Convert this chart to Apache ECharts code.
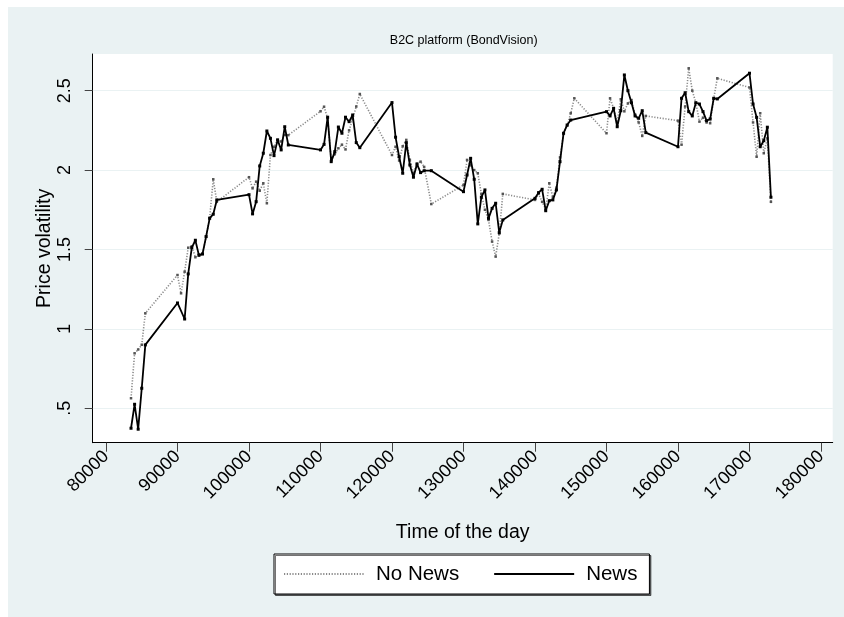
<!DOCTYPE html>
<html>
<head>
<meta charset="utf-8">
<script src="https://cdn.jsdelivr.net/npm/echarts@6/dist/echarts.min.js"></script>
<style>
html,body{margin:0;padding:0;background:#fff;}
#c{width:844px;height:617px;}
</style>
</head>
<body>
<div id="c"></div>
<script>
const titleText = "B2C platform (BondVision)";
const xName = "Time of the day";
const yName = "Price volatility";
const seriesNames = ["No News", "News"];
const xTicks = [80000, 90000, 100000, 110000, 120000, 130000, 140000, 150000, 160000, 170000, 180000];
const yTicks = [0.5, 1, 1.5, 2, 2.5];

const newsTime = [83500,84000,84500,85000,85500,90000,91000,91500,92000,92500,93000,93500,94000,94500,95000,95500,
100000,100500,101000,101500,102000,102500,103000,103500,104000,104500,105000,105500,
110000,110500,111000,111500,112000,112500,113000,113500,114000,114500,115000,115500,
120000,120500,121000,121500,122000,122500,123000,123500,124000,124500,125500,
130000,130500,131000,131500,132000,132500,133000,133500,134000,134500,135000,135500,
140000,140500,141000,141500,142000,142500,143000,143500,144000,144500,145000,
150000,150500,151000,151500,152000,152500,153000,153500,154000,154500,155000,155500,
160000,160500,161000,161500,162000,162500,163000,163500,164000,164500,165000,165500,
170000,170500,171000,171500,172000,172500,173000];
const newsVol = [0.374,0.525,0.368,0.626,0.899,1.163,1.062,1.346,1.511,1.558,1.463,1.472,1.581,1.696,1.722,1.812,
1.845,1.724,1.801,2.026,2.106,2.246,2.200,2.091,2.190,2.127,2.273,2.158,
2.127,2.162,2.333,2.053,2.116,2.271,2.232,2.333,2.305,2.347,2.173,2.141,
2.425,2.207,2.084,1.980,2.173,2.032,1.955,2.038,1.984,1.996,1.996,
1.864,1.969,2.074,1.942,1.661,1.829,1.875,1.696,1.759,1.791,1.606,1.686,
1.822,1.858,1.879,1.744,1.807,1.812,1.875,2.053,2.232,2.284,2.315,
2.368,2.341,2.389,2.273,2.374,2.599,2.500,2.424,2.341,2.326,2.374,2.236,
2.147,2.452,2.487,2.368,2.341,2.424,2.416,2.368,2.311,2.322,2.452,2.448,
2.610,2.416,2.332,2.147,2.185,2.270,1.829];

const noNewsTime = [83500,84000,84500,85000,85500,90000,90500,91000,91500,92000,92500,93000,93500,94000,94500,95000,95500,
100000,100500,101000,101500,102000,102500,103000,103500,104000,104500,105000,105500,
110000,110500,111000,111500,112000,112500,113000,113500,114000,114500,115000,115500,
120000,120500,121000,121500,122000,122500,123000,123500,124000,124500,125500,
130000,130500,131000,131500,132000,132500,133000,133500,134000,134500,135000,135500,
140000,140500,141000,141500,142000,142500,143000,143500,144000,144500,145000,145500,
150000,150500,151000,151500,152000,152500,153000,153500,154000,154500,155000,155500,
160000,160500,161000,161500,162000,162500,163000,163500,164000,164500,165000,165500,
170000,170500,171000,171500,172000,172500,173000];
const noNewsVol = [0.563,0.846,0.87,0.90,1.098,1.339,1.224,1.36,1.511,1.52,1.451,1.47,1.47,1.58,1.70,1.942,1.80,
1.955,1.885,1.927,1.87,1.917,1.791,2.095,2.147,2.19,2.18,2.221,2.22,
2.37,2.399,2.326,2.064,2.10,2.137,2.16,2.13,2.25,2.32,2.40,2.479,
2.095,2.147,2.06,2.15,2.19,2.064,1.98,2.04,2.053,2.02,1.786,
1.906,2.064,2.03,2.0,1.98,1.85,1.75,1.686,1.55,1.455,1.60,1.850,
1.812,1.85,1.80,1.753,1.917,1.83,1.89,2.08,2.23,2.28,2.358,2.452,
2.232,2.452,2.389,2.30,2.446,2.37,2.42,2.441,2.35,2.30,2.215,2.341,
2.311,2.16,2.40,2.641,2.50,2.424,2.305,2.33,2.30,2.295,2.45,2.578,
2.52,2.30,2.084,2.358,2.106,2.20,1.80];

const zip = (a, b) => a.map((t, i) => [t, b[i]]);
const FONT = "'Liberation Sans', Arial, Helvetica, sans-serif";

const chart = echarts.init(document.getElementById('c'), null, {renderer: 'canvas'});
chart.setOption({
  backgroundColor: '#ffffff',
  animation: false,
  graphic: [{
    type: 'rect', z: -10, silent: true,
    shape: {x: 8, y: 7, width: 836, height: 610},
    style: {fill: '#eaf2f3'}
  }],
  title: {
    text: titleText, left: 458.7, top: 29, textAlign: 'center',
    textStyle: {fontFamily: FONT, fontSize: 12.5, fontWeight: 'normal', color: '#000'}
  },
  grid: {
    left: 92.7, top: 54, right: 11.3, bottom: 174.3,
    show: true, backgroundColor: '#ffffff', borderWidth: 0
  },
  legend: {
    data: seriesNames,
    left: 274, top: 554,
    padding: [9, 12, 9, 9],
    itemGap: 34, itemWidth: 80, itemHeight: 16,
    backgroundColor: '#ffffff', borderColor: '#000', borderWidth: 1,
    shadowColor: 'rgba(0,0,0,0.55)', shadowOffsetX: 1.5, shadowOffsetY: 1.5, shadowBlur: 0,
    itemStyle: {opacity: 0},
    textStyle: {fontFamily: FONT, fontSize: 20.5, lineHeight: 22, color: '#000', padding: [0, 0, 0, 7]}
  },
  xAxis: {
    type: 'value', min: 78140, max: 181640,
    name: xName, nameLocation: 'middle', nameGap: 79.5, nameMoveOverlap: false,
    nameTextStyle: {fontFamily: FONT, fontSize: 19.5, color: '#000'},
    axisLine: {show: true, onZero: false, lineStyle: {color: '#000', width: 1}},
    axisTick: {show: true, length: 9, lineStyle: {color: '#444', width: 1}, customValues: xTicks},
    axisLabel: {customValues: xTicks, rotate: 45, margin: 11, fontFamily: FONT, fontSize: 18, color: '#000',
      formatter: v => String(v)},
    splitLine: {show: false}
  },
  yAxis: {
    type: 'value', min: 0.283, max: 2.731,
    name: yName, nameLocation: 'middle', nameGap: 38, nameRotate: 90, nameMoveOverlap: false,
    nameTextStyle: {fontFamily: FONT, fontSize: 19.5, color: '#000'},
    axisLine: {show: true, onZero: false, lineStyle: {color: '#000', width: 1}},
    axisTick: {show: true, length: 8, lineStyle: {color: '#444', width: 1}, customValues: yTicks},
    axisLabel: {customValues: yTicks, rotate: 90, margin: 19, fontFamily: FONT, fontSize: 18, color: '#000',
      formatter: v => { const s = String(v); return s.startsWith('0.') ? s.slice(1) : s; }},
    splitLine: {show: true, lineStyle: {color: '#eaf2f3', width: 1.2}}
  },
  series: [
    {
      name: seriesNames[0], type: 'line', data: zip(noNewsTime, noNewsVol),
      symbol: 'rect', symbolSize: 2.5, showSymbol: true,
      itemStyle: {color: '#555'},
      lineStyle: {color: '#8a8a8a', width: 1.6, type: [1.2, 1.6]},
      z: 2
    },
    {
      name: seriesNames[1], type: 'line', data: zip(newsTime, newsVol),
      symbol: 'rect', symbolSize: 3, showSymbol: true,
      itemStyle: {color: '#000'},
      lineStyle: {color: '#000', width: 1.8, type: 'solid'},
      z: 3
    }
  ]
});
</script>
</body>
</html>
